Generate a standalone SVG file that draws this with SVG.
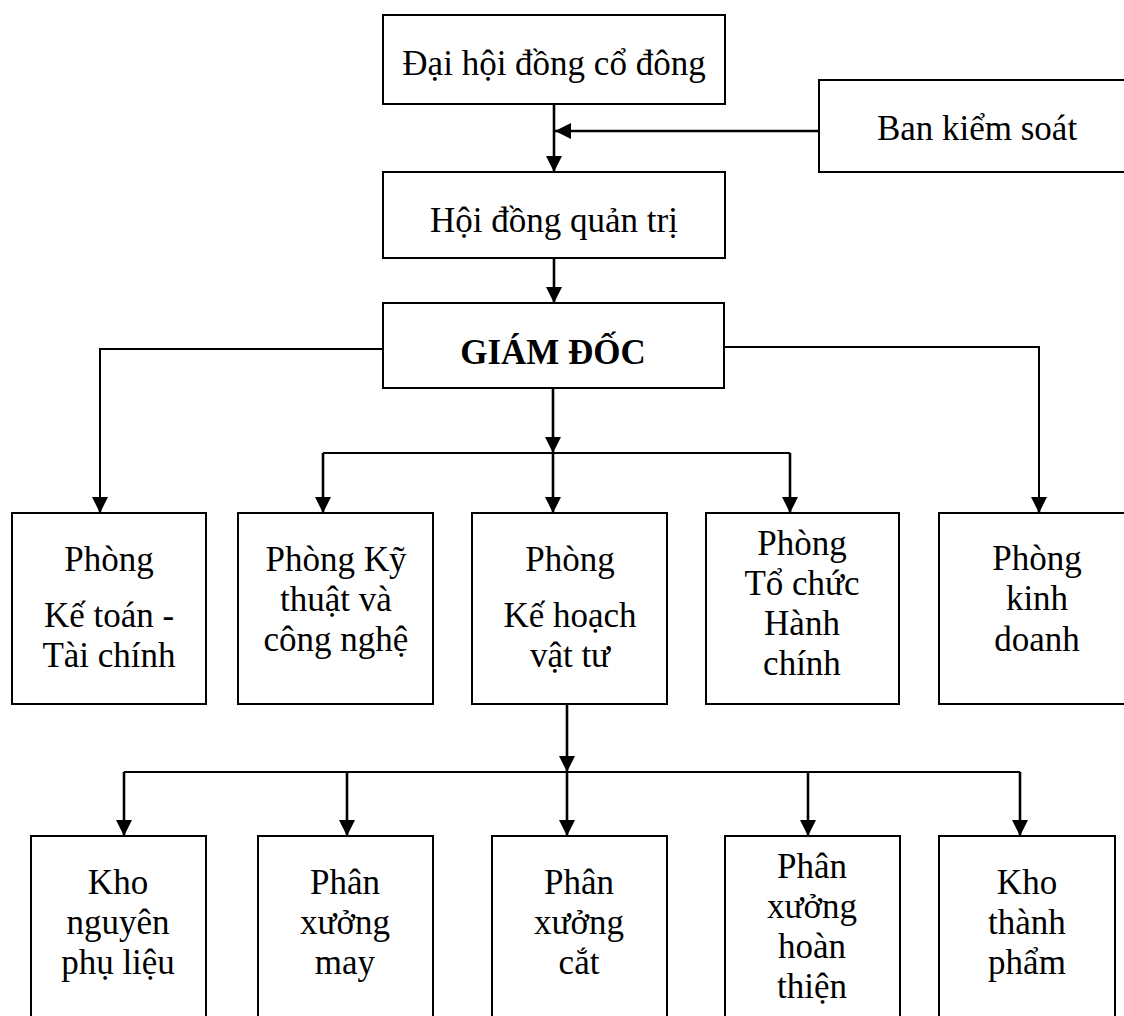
<svg xmlns="http://www.w3.org/2000/svg" width="1124" height="1016" viewBox="0 0 1124 1016">
  <style>
    .box { fill: #ffffff; stroke: #000000; stroke-width: 2; }
    .lbl { font-family: "Liberation Serif", "Times New Roman", serif; font-size: 35px; fill: #000000; text-anchor: middle; }
    .bold { font-weight: bold; }
    .wire { fill: none; stroke: #000000; stroke-width: 2; }
    .arrow { fill: none; stroke: #000000; stroke-width: 2.6; marker-end: url(#head); }
  </style>
  <defs>
    <marker id="head" markerUnits="userSpaceOnUse" markerWidth="16" markerHeight="16" viewBox="0 0 16 16" refX="16" refY="8" orient="auto">
      <path d="M0,0 L16,8 L0,16 z" fill="#000000"/>
    </marker>
  </defs>
  <rect width="1124" height="1016" fill="#ffffff"/>

  <!-- connectors -->
  <g id="connectors">
    <!-- shareholders -> board -->
    <line class="arrow" x1="554" y1="104" x2="554" y2="172"/>
    <!-- supervisory board -> main line -->
    <line class="arrow" x1="819" y1="131" x2="555" y2="131"/>
    <!-- board -> director -->
    <line class="arrow" x1="554" y1="258" x2="554" y2="303"/>
    <!-- director -> accounting (left) -->
    <polyline class="wire" points="383,349 100,349 100,498"/>
    <line class="arrow" x1="100" y1="497" x2="100" y2="513"/>
    <!-- director -> sales (right) -->
    <polyline class="wire" points="724,347 1039,347 1039,498"/>
    <line class="arrow" x1="1039" y1="497" x2="1039" y2="513"/>
    <!-- director -> middle branch -->
    <line class="arrow" x1="553" y1="388" x2="553" y2="453"/>
    <line class="wire" x1="323" y1="453" x2="790" y2="453"/>
    <polyline class="arrow" points="323,453 323,513"/>
    <polyline class="arrow" points="553,453 553,513"/>
    <polyline class="arrow" points="790,453 790,513"/>
    <!-- planning -> workshops and stores -->
    <line class="arrow" x1="567" y1="704" x2="567" y2="772"/>
    <line class="wire" x1="124" y1="772" x2="1020" y2="772"/>
    <polyline class="arrow" points="124,772 124,836"/>
    <polyline class="arrow" points="347,772 347,836"/>
    <polyline class="arrow" points="567,772 567,836"/>
    <polyline class="arrow" points="808,772 808,836"/>
    <polyline class="arrow" points="1020,772 1020,836"/>
  </g>

  <!-- top levels -->
  <g id="dai-hoi-dong-co-dong">
    <rect class="box" x="383" y="15" width="342" height="89"/>
    <text class="lbl" x="554" y="75">Đại hội đồng cổ đông</text>
  </g>
  <g id="ban-kiem-soat">
    <rect class="box" x="819" y="80" width="320" height="92"/>
    <text class="lbl" x="977" y="140">Ban kiểm soát</text>
  </g>
  <g id="hoi-dong-quan-tri">
    <rect class="box" x="383" y="172" width="342" height="86"/>
    <text class="lbl" x="554" y="232">Hội đồng quản trị</text>
  </g>
  <g id="giam-doc">
    <rect class="box" x="383" y="303" width="341" height="85"/>
    <text class="lbl bold" x="553" y="364">GIÁM ĐỐC</text>
  </g>

  <!-- departments -->
  <g id="phong-ke-toan">
    <rect class="box" x="12" y="513" width="194" height="191"/>
    <text class="lbl" x="109" y="571">Phòng</text>
    <text class="lbl" x="109" y="627">Kế toán -</text>
    <text class="lbl" x="109" y="667">Tài chính</text>
  </g>
  <g id="phong-ky-thuat">
    <rect class="box" x="238" y="513" width="195" height="191"/>
    <text class="lbl" x="336" y="571">Phòng Kỹ</text>
    <text class="lbl" x="336" y="611">thuật và</text>
    <text class="lbl" x="336" y="651">công nghệ</text>
  </g>
  <g id="phong-ke-hoach">
    <rect class="box" x="472" y="513" width="195" height="191"/>
    <text class="lbl" x="570" y="571">Phòng</text>
    <text class="lbl" x="570" y="627">Kế hoạch</text>
    <text class="lbl" x="570" y="667">vật tư</text>
  </g>
  <g id="phong-to-chuc">
    <rect class="box" x="706" y="513" width="193" height="191"/>
    <text class="lbl" x="802" y="555">Phòng</text>
    <text class="lbl" x="802" y="595">Tổ chức</text>
    <text class="lbl" x="802" y="635">Hành</text>
    <text class="lbl" x="802" y="675">chính</text>
  </g>
  <g id="phong-kinh-doanh">
    <rect class="box" x="939" y="513" width="196" height="191"/>
    <text class="lbl" x="1037" y="570">Phòng</text>
    <text class="lbl" x="1037" y="610">kinh</text>
    <text class="lbl" x="1037" y="651">doanh</text>
  </g>

  <!-- workshops and stores -->
  <g id="kho-nguyen-phu-lieu">
    <rect class="box" x="31" y="836" width="175" height="200"/>
    <text class="lbl" x="118" y="894">Kho</text>
    <text class="lbl" x="118" y="934">nguyên</text>
    <text class="lbl" x="118" y="974">phụ liệu</text>
  </g>
  <g id="phan-xuong-may">
    <rect class="box" x="258" y="836" width="175" height="200"/>
    <text class="lbl" x="345" y="894">Phân</text>
    <text class="lbl" x="345" y="934">xưởng</text>
    <text class="lbl" x="345" y="974">may</text>
  </g>
  <g id="phan-xuong-cat">
    <rect class="box" x="492" y="836" width="175" height="200"/>
    <text class="lbl" x="579" y="894">Phân</text>
    <text class="lbl" x="579" y="934">xưởng</text>
    <text class="lbl" x="579" y="974">cắt</text>
  </g>
  <g id="phan-xuong-hoan-thien">
    <rect class="box" x="725" y="836" width="175" height="200"/>
    <text class="lbl" x="812" y="878">Phân</text>
    <text class="lbl" x="812" y="918">xưởng</text>
    <text class="lbl" x="812" y="958">hoàn</text>
    <text class="lbl" x="812" y="998">thiện</text>
  </g>
  <g id="kho-thanh-pham">
    <rect class="box" x="939" y="836" width="176" height="200"/>
    <text class="lbl" x="1027" y="894">Kho</text>
    <text class="lbl" x="1027" y="934">thành</text>
    <text class="lbl" x="1027" y="974">phẩm</text>
  </g>
</svg>
